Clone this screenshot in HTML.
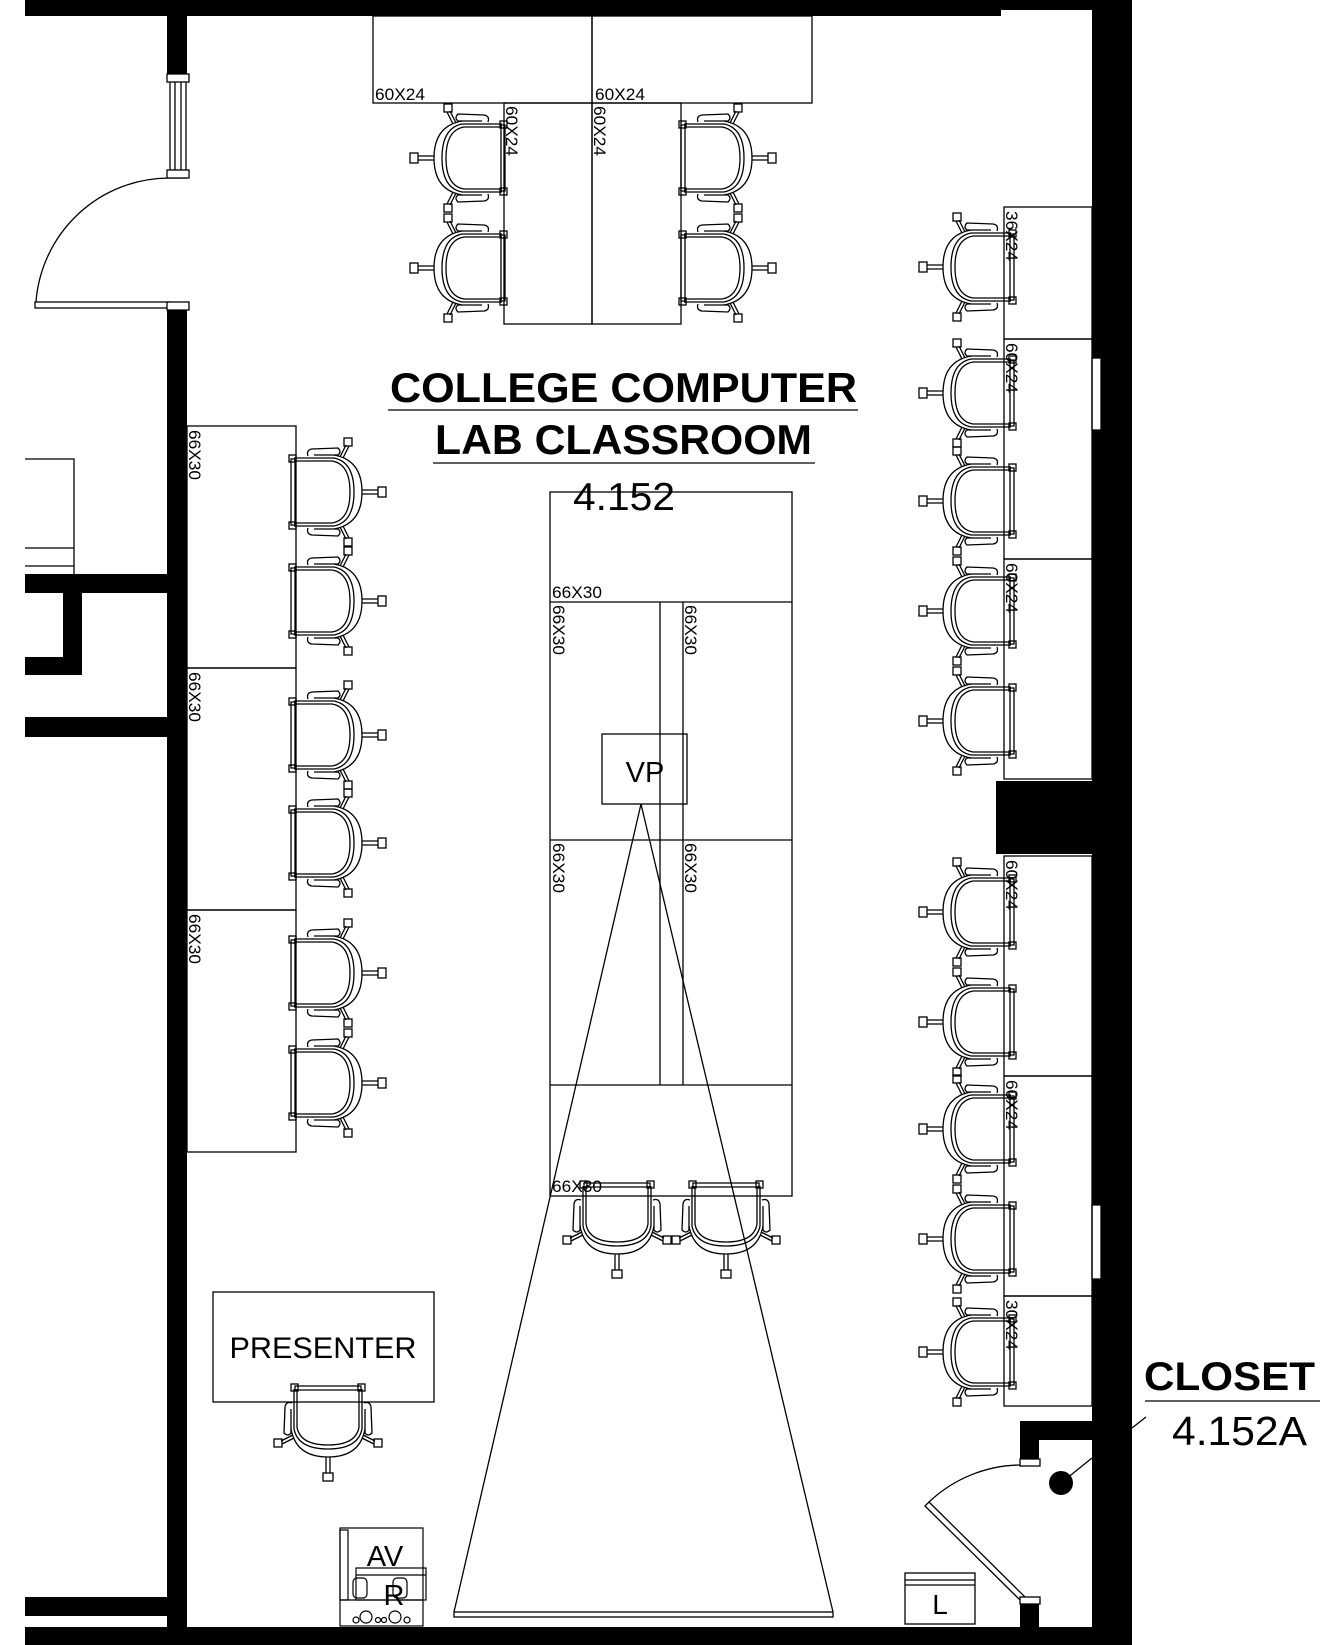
<!DOCTYPE html>
<html><head><meta charset="utf-8"><style>
html,body{margin:0;padding:0;background:#fff;}
svg{display:block;}
text{font-family:"Liberation Sans",Arial,sans-serif;fill:#000;}
</style></head><body>
<svg width="1342" height="1645" viewBox="0 0 1342 1645" xmlns="http://www.w3.org/2000/svg">
<defs>
<g id="ch" fill="none" stroke="#000" stroke-width="1.3">
  <path d="M1,-33 L5,-33 L5,33 L1,33 Z"/>
  <rect x="-1" y="-37" width="7" height="7"/>
  <rect x="-1" y="30" width="7" height="7"/>
  <path d="M4,-31 L42,-31 Q60,-28 60,0 Q60,28 42,31 L4,31"/>
  <path d="M4,-34 L44,-34 Q64,-30 64,0 Q64,30 44,34 L4,34"/>
  <path d="M44,-37 Q72,-32 72,0 Q72,32 44,37"/>
  <path d="M18,-36 Q16,-42 22,-43 L48,-44 Q52,-40 48,-37 L24,-37"/>
  <path d="M18,36 Q16,42 22,43 L48,44 Q52,40 48,37 L24,37"/>
  <path d="M50,-35 L56,-47 M53,-34 L59,-46"/>
  <rect x="54" y="-54" width="8" height="8"/>
  <path d="M50,35 L56,47 M53,34 L59,46"/>
  <rect x="54" y="46" width="8" height="8"/>
  <path d="M72,-2 L88,-2 M72,2 L88,2"/>
  <rect x="88" y="-5" width="8" height="10"/>
</g>
</defs>

<g fill="#000">
  <rect x="25" y="0" width="976" height="16"/>
  <rect x="1001" y="0" width="91" height="10"/>
  <rect x="1092" y="0" width="40" height="1645"/>
  <rect x="996" y="781" width="96" height="73"/>
  <rect x="167" y="16" width="20" height="58"/>
  <rect x="167" y="308" width="20" height="1320"/>
  <rect x="25" y="574" width="142" height="19"/>
  <rect x="63" y="593" width="19" height="82"/>
  <rect x="25" y="657" width="57" height="18"/>
  <rect x="25" y="717" width="142" height="20"/>
  <rect x="25" y="1597" width="142" height="19"/>
  <rect x="25" y="1627" width="1107" height="18"/>
  <rect x="1020" y="1421" width="72" height="19"/>
  <rect x="1020" y="1440" width="19" height="22"/>
  <rect x="1020" y="1600" width="19" height="27"/>
  <circle cx="1061" cy="1483" r="12"/>
</g>
<g fill="none" stroke="#000" stroke-width="1.3">
  <path d="M25,459 L74,459 L74,574 M25,548 L74,548 M25,566 L74,566"/>
  <rect x="170" y="74" width="16" height="104" fill="#fff"/>
  <path d="M175,80 L175,172 M181,80 L181,172"/>
  <rect x="167" y="74" width="22" height="8" fill="#fff"/>
  <rect x="167" y="170" width="22" height="8" fill="#fff"/>
  <rect x="35" y="302" width="134" height="6"/>
  <rect x="167" y="302" width="22" height="8" fill="#fff"/>
  <path d="M36,302 A134,134 0 0 1 169,178"/>
  <rect x="1092" y="358" width="9" height="72" fill="#fff"/>
  <rect x="1092" y="1205" width="9" height="74" fill="#fff"/>
  <path d="M929,1502 L1026,1598 L1022,1602 L925,1506 Z" fill="#fff"/>
  <path d="M929,1502 A135,135 0 0 1 1020,1465"/>
  <rect x="1020" y="1459" width="20" height="7" fill="#fff"/>
  <rect x="1020" y="1597" width="20" height="7" fill="#fff"/>
  <path d="M1061,1483 L1092,1458 M1132,1428 L1146,1417"/>
  <rect x="905" y="1573" width="70" height="51"/>
  <path d="M905,1580 L975,1580 M905,1585 L975,1585"/>
</g>

<g fill="none" stroke="#000" stroke-width="1.3">
  <rect x="373" y="16" width="219" height="87"/>
  <rect x="592" y="16" width="220" height="87"/>
  <rect x="504" y="103" width="88" height="221"/>
  <rect x="592" y="103" width="89" height="221"/>
</g>
<g font-size="17">
  <text x="375" y="100" textLength="50" lengthAdjust="spacingAndGlyphs">60X24</text>
  <text x="595" y="100" textLength="50" lengthAdjust="spacingAndGlyphs">60X24</text>
  <text transform="translate(506,106) rotate(90)" textLength="50" lengthAdjust="spacingAndGlyphs">60X24</text>
  <text transform="translate(594,106) rotate(90)" textLength="50" lengthAdjust="spacingAndGlyphs">60X24</text>
</g>
<use href="#ch" transform="translate(506,158) scale(-1,1)"/>
<use href="#ch" transform="translate(506,268) scale(-1,1)"/>
<use href="#ch" transform="translate(680,158)"/>
<use href="#ch" transform="translate(680,268)"/>

<g fill="none" stroke="#000" stroke-width="1.3">
  <rect x="187" y="426" width="109" height="242"/>
  <rect x="187" y="668" width="109" height="242"/>
  <rect x="187" y="910" width="109" height="242"/>
</g>
<g font-size="17">
  <text transform="translate(189,430) rotate(90)" textLength="50" lengthAdjust="spacingAndGlyphs">66X30</text>
  <text transform="translate(189,672) rotate(90)" textLength="50" lengthAdjust="spacingAndGlyphs">66X30</text>
  <text transform="translate(189,914) rotate(90)" textLength="50" lengthAdjust="spacingAndGlyphs">66X30</text>
</g>
<use href="#ch" transform="translate(290,492)"/>
<use href="#ch" transform="translate(290,601)"/>
<use href="#ch" transform="translate(290,735)"/>
<use href="#ch" transform="translate(290,843)"/>
<use href="#ch" transform="translate(290,973)"/>
<use href="#ch" transform="translate(290,1083)"/>

<g fill="none" stroke="#000" stroke-width="1.3">
  <rect x="1004" y="207" width="88" height="132"/>
  <rect x="1004" y="339" width="88" height="220"/>
  <rect x="1004" y="559" width="88" height="220"/>
  <rect x="1004" y="856" width="88" height="220"/>
  <rect x="1004" y="1076" width="88" height="220"/>
  <rect x="1004" y="1296" width="88" height="110"/>
</g>
<g font-size="17">
  <text transform="translate(1006,211) rotate(90)" textLength="50" lengthAdjust="spacingAndGlyphs">36X24</text>
  <text transform="translate(1006,343) rotate(90)" textLength="50" lengthAdjust="spacingAndGlyphs">60X24</text>
  <text transform="translate(1006,563) rotate(90)" textLength="50" lengthAdjust="spacingAndGlyphs">60X24</text>
  <text transform="translate(1006,860) rotate(90)" textLength="50" lengthAdjust="spacingAndGlyphs">60X24</text>
  <text transform="translate(1006,1080) rotate(90)" textLength="50" lengthAdjust="spacingAndGlyphs">60X24</text>
  <text transform="translate(1006,1300) rotate(90)" textLength="50" lengthAdjust="spacingAndGlyphs">30X24</text>
</g>
<use href="#ch" transform="translate(1015,267) scale(-1,1)"/>
<use href="#ch" transform="translate(1015,393) scale(-1,1)"/>
<use href="#ch" transform="translate(1015,501) scale(-1,1)"/>
<use href="#ch" transform="translate(1015,611) scale(-1,1)"/>
<use href="#ch" transform="translate(1015,721) scale(-1,1)"/>
<use href="#ch" transform="translate(1015,912) scale(-1,1)"/>
<use href="#ch" transform="translate(1015,1022) scale(-1,1)"/>
<use href="#ch" transform="translate(1015,1129) scale(-1,1)"/>
<use href="#ch" transform="translate(1015,1239) scale(-1,1)"/>
<use href="#ch" transform="translate(1015,1352) scale(-1,1)"/>

<g fill="none" stroke="#000" stroke-width="1.3">
  <rect x="550" y="492" width="242" height="704"/>
  <path d="M550,602 L792,602 M550,840 L792,840 M550,1085 L792,1085"/>
  <path d="M660,602 L660,1085 M683,602 L683,1085"/>
  <path d="M641,804 L454,1612 M641,804 L833,1612"/>
  <rect x="454" y="1612" width="379" height="5" fill="#fff"/>
  <rect x="602" y="734" width="85" height="70" fill="none"/>
</g>
<g font-size="17">
  <text x="552" y="598" textLength="50" lengthAdjust="spacingAndGlyphs">66X30</text>
  <text x="552" y="1192" textLength="50" lengthAdjust="spacingAndGlyphs">66X30</text>
  <text transform="translate(553,605) rotate(90)" textLength="50" lengthAdjust="spacingAndGlyphs">66X30</text>
  <text transform="translate(685,605) rotate(90)" textLength="50" lengthAdjust="spacingAndGlyphs">66X30</text>
  <text transform="translate(553,843) rotate(90)" textLength="50" lengthAdjust="spacingAndGlyphs">66X30</text>
  <text transform="translate(685,843) rotate(90)" textLength="50" lengthAdjust="spacingAndGlyphs">66X30</text>
</g>
<text x="645" y="782" font-size="29" text-anchor="middle">VP</text>
<use href="#ch" transform="translate(617,1182) rotate(90)"/>
<use href="#ch" transform="translate(726,1182) rotate(90)"/>

<rect x="213" y="1292" width="221" height="110" fill="none" stroke="#000" stroke-width="1.3"/>
<text x="323" y="1358" font-size="30" text-anchor="middle" textLength="187" lengthAdjust="spacingAndGlyphs">PRESENTER</text>
<use href="#ch" transform="translate(328,1385) rotate(90)"/>

<g fill="none" stroke="#000" stroke-width="1.2">
  <rect x="340" y="1528" width="83" height="98"/>
  <rect x="340" y="1530" width="8" height="70"/>
  <rect x="356" y="1568" width="70" height="32"/>
  <path d="M356,1575 L426,1575"/>
  <rect x="353" y="1578" width="14" height="20" rx="4"/>
  <rect x="393" y="1578" width="14" height="20" rx="4"/>
  <path d="M340,1600 L423,1600"/>
  <circle cx="366" cy="1617" r="6"/><circle cx="395" cy="1617" r="6"/>
  <circle cx="356" cy="1620" r="3"/><circle cx="378" cy="1620" r="2.5"/><circle cx="384" cy="1620" r="2.5"/><circle cx="407" cy="1620" r="3"/>
</g>
<text x="385" y="1566" font-size="29" text-anchor="middle">AV</text>
<text x="394" y="1605" font-size="29" text-anchor="middle">R</text>
<text x="940" y="1614" font-size="28" text-anchor="middle">L</text>

<text x="390" y="402" font-size="42" font-weight="bold" textLength="467" lengthAdjust="spacingAndGlyphs">COLLEGE COMPUTER</text>
<line x1="388" y1="410" x2="858" y2="410" stroke="#000" stroke-width="1.3"/>
<text x="435" y="454" font-size="42" font-weight="bold" textLength="377" lengthAdjust="spacingAndGlyphs">LAB CLASSROOM</text>
<line x1="433" y1="463" x2="815" y2="463" stroke="#000" stroke-width="1.3"/>
<text x="573" y="510" font-size="39" textLength="102" lengthAdjust="spacingAndGlyphs">4.152</text>

<text x="1144" y="1390" font-size="40" font-weight="bold" textLength="171" lengthAdjust="spacingAndGlyphs">CLOSET</text>
<line x1="1145" y1="1401" x2="1320" y2="1401" stroke="#000" stroke-width="1.3"/>
<text x="1172" y="1445" font-size="41" textLength="135" lengthAdjust="spacingAndGlyphs">4.152A</text>
</svg>
</body></html>
